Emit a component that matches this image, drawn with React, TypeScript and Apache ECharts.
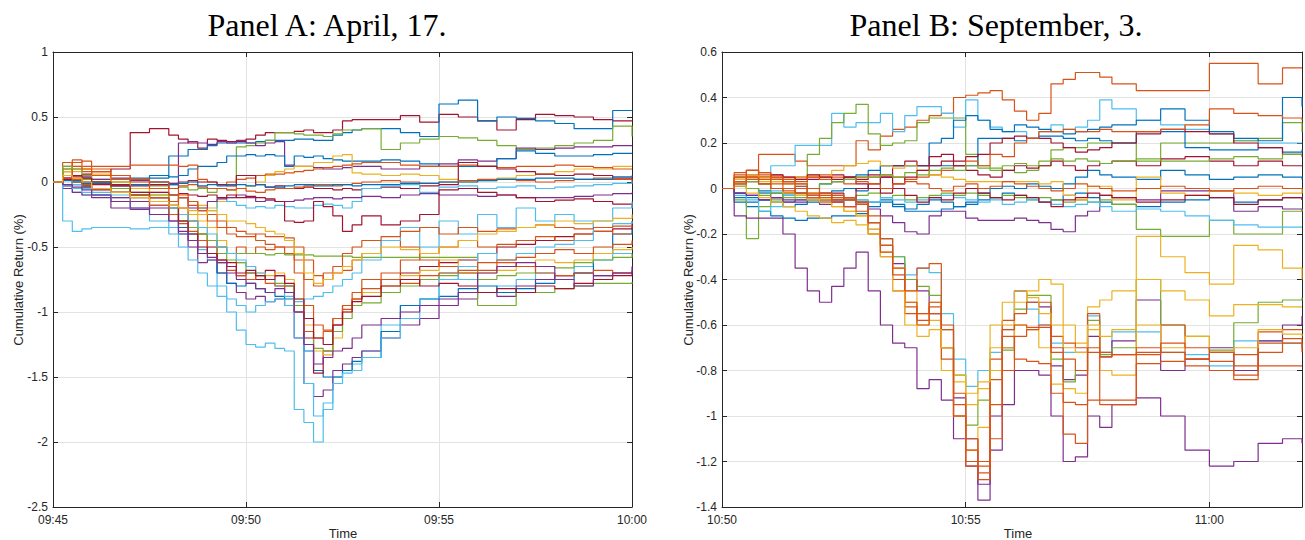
import React, { useEffect, useRef } from "react";
import * as echarts from "echarts";

// ---------- palette (MATLAB default line colours) ----------
const PALETTE: Record<string, string> = {
  blue: "#0072BD",
  orange: "#D95319",
  yellow: "#EDB120",
  purple: "#7E2F8E",
  green: "#77AC30",
  lblue: "#4DBEEE",
  dred: "#A2142F",
};

// ---------- Panel A: April 17, minutes after 09:45 ----------
const TITLE_A = "Panel A: April, 17.";
const START_A = 9 * 60 + 45;
const TIME_A = [0, 0.25, 0.5, 0.75, 1, 1.5, 2, 2.5, 3, 3.25, 3.5, 3.75, 4, 4.25, 4.5, 4.75, 5, 5.25, 5.5, 5.75, 6, 6.25, 6.5, 6.75, 7, 7.25, 7.5, 7.75, 8, 8.5, 9, 9.5, 10, 10.5, 11, 11.5, 12, 12.5, 13, 13.5, 14, 14.5, 15];
const Y_TICKS_A = { min: -2.5, max: 1, interval: 0.5 };
const X_TICKS_A = { min: 0, max: 15, interval: 5 };

const A01 = [0,0.02,0.04,0.06,0.08,0.1,0.38,0.41,0.36,0.33,0.3,0.26,0.33,0.32,0.31,0.31,0.33,0.36,0.38,0.38,0.38,0.39,0.4,0.38,0.38,0.4,0.47,0.48,0.48,0.48,0.51,0.46,0.52,0.5,0.47,0.4,0.48,0.52,0.51,0.5,0.48,0.47,0.47];
const A02 = [0,0.01,0.02,0.0,-0.01,0.0,0.02,0.03,0.2,0.2,0.25,0.25,0.28,0.3,0.3,0.3,0.3,0.31,0.32,0.32,0.32,0.33,0.33,0.32,0.32,0.36,0.38,0.4,0.41,0.41,0.38,0.35,0.6,0.63,0.47,0.5,0.49,0.47,0.45,0.41,0.41,0.55,0.55];
const A03 = [0,0.12,0.05,0.03,0.02,0.0,-0.02,-0.03,-0.05,-0.04,-0.06,-0.05,-0.08,-0.05,-0.06,0.27,0.28,0.3,0.32,0.38,0.38,0.37,0.36,0.36,0.35,0.37,0.4,0.4,0.41,0.25,0.3,0.33,0.35,0.34,0.32,0.28,0.25,0.26,0.28,0.3,0.32,0.43,0.35];
const A04 = [0,0.03,0.05,0.04,0.02,0.03,0.01,-0.02,-0.01,0.3,0.31,0.3,0.29,0.31,0.3,0.32,0.3,0.28,0.3,0.31,0.13,0.12,0.12,0.11,0.1,0.1,0.11,0.12,0.12,0.1,0.1,0.12,0.14,0.17,0.16,0.18,0.26,0.25,0.26,0.27,0.27,0.28,0.28];
const A05 = [0,0.02,0.01,-0.01,0.0,0.02,0.03,0.05,0.04,0.05,0.1,0.12,0.12,0.15,0.2,0.2,0.21,0.2,0.21,0.2,0.12,0.2,0.19,0.2,0.18,0.17,0.16,0.16,0.16,0.17,0.16,0.14,0.12,0.12,0.12,0.18,0.24,0.22,0.2,0.2,0.21,0.22,0.22];
const A06 = [0,0.05,0.08,0.1,0.06,0.0,-0.05,-0.08,-0.1,-0.12,-0.15,-0.18,-0.2,-0.15,-0.12,-0.05,-0.03,0.0,0.05,0.08,0.1,0.12,0.12,0.15,0.15,0.2,0.21,0.07,0.06,0.05,0.06,0.05,0.02,0.0,0.01,0.03,0.05,0.06,0.08,0.1,0.1,0.12,0.12];
const A07 = [0,0.08,0.15,0.16,0.12,0.12,0.13,0.13,0.13,0.12,0.13,0.02,0.0,-0.02,0.0,0.02,0.03,0.05,0.06,0.06,0.07,0.08,0.09,0.1,0.11,0.12,0.13,0.14,0.15,0.15,0.13,0.12,0.12,0.13,0.12,0.11,0.12,0.12,0.13,0.12,0.11,0.1,0.1];
const A08 = [0,-0.03,-0.05,-0.02,0.0,-0.02,-0.03,-0.02,-0.05,0.0,0.01,0.0,0.0,-0.02,-0.03,0.05,0.05,-0.02,-0.04,-0.03,-0.05,-0.05,-0.04,-0.05,-0.05,-0.06,-0.05,-0.06,-0.05,-0.04,-0.05,-0.03,-0.02,0.15,0.12,0.1,0.08,0.06,0.05,0.06,0.05,0.03,0.02];
const A09 = [0,0.1,0.17,0.12,0.1,0.05,0.02,0.0,-0.02,-0.03,-0.02,-0.04,-0.05,-0.05,-0.06,-0.05,-0.07,-0.08,-0.06,-0.05,-0.05,-0.04,-0.03,-0.02,-0.02,-0.03,-0.02,-0.01,0.0,0.01,0.0,-0.01,0.0,0.01,0.02,0.02,0.01,0.0,0.01,0.02,0.03,0.02,0.0];
const A10 = [0,0.02,0.0,-0.03,-0.05,-0.03,-0.02,0.0,-0.02,-0.01,0.0,-0.03,-0.02,-0.03,-0.02,-0.02,-0.03,-0.02,-0.04,-0.04,-0.03,-0.02,-0.02,-0.03,-0.03,-0.02,-0.02,-0.03,-0.02,-0.02,-0.01,-0.01,0.0,0.0,0.01,0.02,0.02,0.03,0.03,0.02,0.02,0.04,0.05];
const A11 = [0,-0.05,-0.08,-0.1,-0.1,-0.12,-0.1,-0.12,-0.1,-0.12,-0.15,-0.2,-0.22,-0.12,-0.15,-0.18,-0.2,-0.19,-0.2,-0.18,-0.19,-0.2,-0.2,-0.18,-0.17,-0.18,-0.2,-0.15,-0.05,-0.03,-0.02,-0.08,-0.04,-0.03,-0.05,-0.04,-0.03,-0.05,-0.04,-0.03,-0.02,-0.01,0.0];
const A12 = [0,-0.05,-0.08,-0.1,-0.12,-0.2,-0.21,-0.18,-0.15,-0.12,-0.2,-0.22,-0.15,-0.13,-0.12,-0.1,-0.12,-0.15,-0.14,-0.15,-0.15,-0.14,-0.13,-0.12,-0.12,-0.13,-0.12,-0.12,-0.11,-0.12,-0.1,-0.09,-0.1,-0.1,-0.11,-0.1,-0.12,-0.12,-0.12,-0.11,-0.1,-0.09,-0.08];
const A13 = [0,-0.02,-0.05,-0.04,-0.06,-0.08,-0.1,-0.08,-0.1,-0.09,-0.1,-0.11,-0.1,-0.12,-0.1,-0.12,-0.11,-0.12,-0.13,-0.15,-0.3,-0.31,-0.3,-0.15,-0.19,-0.26,-0.38,-0.33,-0.26,-0.33,-0.3,-0.25,-0.06,-0.05,-0.08,-0.1,-0.12,-0.15,-0.14,-0.13,-0.15,-0.17,-0.2];
const A14 = [0,-0.3,-0.38,-0.36,-0.35,-0.35,-0.36,-0.35,-0.35,-0.4,-0.45,-0.52,-0.6,-0.8,-1.0,-1.14,-1.25,-1.27,-1.24,-1.28,-1.3,-1.75,-1.85,-2.0,-1.75,-1.5,-1.45,-1.4,-1.3,-1.1,-0.95,-0.9,-0.7,-0.75,-0.85,-0.8,-0.75,-0.7,-0.72,-0.65,-0.6,-0.55,-0.55];
const A15 = [0,0.03,-0.02,-0.05,-0.1,-0.12,-0.15,-0.2,-0.3,-0.4,-0.5,-0.62,-0.6,-0.7,-0.78,-0.85,-0.9,-0.88,-0.92,-0.9,-0.95,-1.2,-1.55,-1.65,-1.6,-1.45,-1.4,-1.35,-1.3,-1.2,-1.1,-1.05,-0.95,-0.9,-0.85,-0.88,-0.8,-0.75,-0.72,-0.7,-0.72,-0.7,-0.68];
const A16 = [0,-0.02,0.0,-0.03,-0.05,-0.08,-0.1,-0.15,-0.25,-0.35,-0.4,-0.45,-0.55,-0.7,-0.78,-0.8,-0.78,-0.82,-0.85,-0.88,-0.9,-1.0,-1.3,-1.45,-1.5,-1.5,-1.45,-1.38,-1.35,-1.15,-0.95,-0.9,-0.88,-0.82,-0.8,-0.85,-0.82,-0.78,-0.75,-0.7,-0.55,-0.4,-0.35];
const A17 = [0,0.05,0.02,0.0,-0.02,-0.05,-0.1,-0.12,-0.2,-0.3,-0.35,-0.4,-0.5,-0.6,-0.65,-0.72,-0.7,-0.75,-0.68,-0.72,-0.8,-0.95,-1.2,-1.47,-1.3,-1.1,-0.95,-0.9,-0.85,-0.75,-0.7,-0.65,-0.62,-0.6,-0.55,-0.5,-0.48,-0.45,-0.42,-0.4,-0.38,-0.36,-0.3];
const A18 = [0,0.08,0.12,0.1,0.05,0.0,-0.05,-0.1,-0.15,-0.2,-0.25,-0.3,-0.35,-0.45,-0.55,-0.62,-0.65,-0.7,-0.72,-0.7,-0.75,-0.9,-1.1,-1.3,-1.33,-1.2,-1.0,-0.9,-0.85,-0.8,-0.72,-0.68,-0.6,-0.65,-0.7,-0.68,-0.65,-0.6,-0.62,-0.6,-0.55,-0.52,-0.5];
const A19 = [0,0.1,0.05,0.02,0.0,-0.05,-0.08,-0.1,-0.18,-0.25,-0.3,-0.4,-0.45,-0.55,-0.6,-0.62,-0.7,-0.72,-0.75,-0.78,-0.8,-0.95,-1.15,-1.28,-1.3,-1.15,-1.05,-0.95,-0.93,-0.85,-0.8,-0.75,-0.72,-0.7,-0.75,-0.72,-0.7,-0.65,-0.66,-0.62,-0.6,-0.58,-0.55];
const A20 = [0,0.05,0.1,0.08,0.05,0.02,0.0,-0.05,-0.1,-0.2,-0.3,-0.35,-0.45,-0.5,-0.55,-0.5,-0.55,-0.5,-0.52,-0.5,-0.55,-0.7,-0.95,-1.1,-1.14,-1.05,-0.95,-0.85,-0.75,-0.7,-0.6,-0.55,-0.5,-0.45,-0.5,-0.48,-0.45,-0.42,-0.45,-0.4,-0.38,-0.4,-0.4];
const A21 = [0,0.15,0.12,0.1,0.08,0.05,0.02,0.0,-0.05,-0.1,-0.15,-0.22,-0.3,-0.35,-0.4,-0.42,-0.42,-0.4,-0.42,-0.42,-0.43,-0.5,-0.6,-0.72,-0.75,-0.7,-0.68,-0.6,-0.55,-0.45,-0.5,-0.6,-0.65,-0.7,-0.68,-0.62,-0.65,-0.7,-0.72,-0.7,-0.68,-0.7,-0.7];
const A22 = [0,0.12,0.1,0.05,0.0,-0.05,-0.1,-0.15,-0.2,-0.3,-0.35,-0.4,-0.45,-0.5,-0.55,-0.55,-0.55,-0.55,-0.56,-0.55,-0.56,-0.56,-0.56,-0.57,-0.57,-0.57,-0.57,-0.58,-0.58,-0.58,-0.58,-0.58,-0.58,-0.58,-0.95,-0.95,-0.85,-0.85,-0.82,-0.8,-0.78,-0.78,-0.77];
const A23 = [0,-0.03,-0.05,-0.08,-0.1,-0.15,-0.2,-0.3,-0.4,-0.5,-0.6,-0.7,-0.8,-0.88,-0.9,-0.95,-1.0,-0.95,-0.92,-0.9,-0.95,-1.2,-1.55,-1.8,-1.7,-1.55,-1.47,-1.45,-1.35,-1.2,-1.05,-0.9,-0.75,-0.65,-0.55,-0.6,-0.55,-0.5,-0.48,-0.45,-0.3,-0.2,-0.15];
const A24 = [0,0.02,-0.02,-0.05,-0.08,-0.1,-0.12,-0.15,-0.2,-0.25,-0.3,-0.35,-0.4,-0.5,-0.55,-0.6,-0.65,-0.7,-0.75,-0.8,-0.88,-0.92,-0.9,-0.88,-0.85,-0.8,-0.75,-0.7,-0.6,-0.45,-0.35,-0.5,-0.3,-0.4,-0.25,-0.35,-0.2,-0.3,-0.25,-0.3,-0.35,-0.32,-0.3];
const A25 = [0,0.05,0.02,-0.02,-0.05,-0.08,-0.12,-0.18,-0.25,-0.32,-0.38,-0.45,-0.55,-0.62,-0.68,-0.72,-0.75,-0.72,-0.78,-0.8,-0.85,-1.0,-1.15,-1.2,-1.15,-1.05,-0.98,-0.9,-0.82,-0.75,-0.78,-0.72,-0.7,-0.68,-0.62,-0.6,-0.58,-0.55,-0.52,-0.55,-0.5,-0.48,-0.45];
const A26 = [0,0.02,0.05,0.03,0.0,-0.03,-0.08,-0.12,-0.18,-0.3,-0.4,-0.5,-0.55,-0.6,-0.62,-0.7,-0.68,-0.72,-0.75,-0.72,-0.78,-0.9,-1.05,-1.2,-1.25,-1.1,-1.0,-0.92,-0.88,-0.8,-0.75,-0.8,-0.78,-0.8,-0.85,-0.82,-0.85,-0.8,-0.82,-0.78,-0.75,-0.72,-0.7];
const A27 = [0,-0.02,-0.04,-0.06,-0.1,-0.15,-0.2,-0.25,-0.3,-0.38,-0.45,-0.55,-0.58,-0.62,-0.7,-0.75,-0.78,-0.82,-0.85,-0.82,-0.85,-1.0,-1.25,-1.4,-1.35,-1.3,-1.28,-1.2,-1.1,-1.05,-1.0,-0.95,-0.9,-0.85,-0.7,-0.65,-0.62,-0.65,-0.75,-0.8,-0.72,-0.7,-0.65];
const A28 = [0,0.03,0.0,-0.02,-0.05,-0.08,-0.1,-0.12,-0.15,-0.12,-0.18,-0.2,-0.25,-0.3,-0.35,-0.38,-0.4,-0.45,-0.48,-0.5,-0.5,-0.6,-0.75,-0.8,-0.7,-0.65,-0.55,-0.5,-0.45,-0.42,-0.38,-0.35,-0.4,-0.35,-0.38,-0.36,-0.35,-0.33,-0.35,-0.36,-0.35,-0.34,-0.35];
const A29 = [0,0.05,0.03,0.0,-0.05,-0.08,-0.12,-0.15,-0.18,-0.2,-0.22,-0.25,-0.22,-0.25,-0.3,-0.3,-0.32,-0.35,-0.38,-0.4,-0.45,-0.55,-0.7,-0.78,-0.75,-0.7,-0.65,-0.6,-0.55,-0.5,-0.52,-0.55,-0.5,-0.45,-0.4,-0.38,-0.35,-0.33,-0.3,-0.32,-0.3,-0.28,-0.25];

const LINES_A = [A01, A02, A03, A04, A05, A06, A07, A08, A09, A10, A11, A12, A13, A14, A15, A16, A17, A18, A19, A20, A21, A22, A23, A24, A25, A26, A27, A28, A29];
const COLORS_A = ["dred", "blue", "green", "purple", "blue", "yellow", "orange", "dred", "orange", "blue", "lblue", "purple", "dred", "lblue", "purple", "blue", "dred", "yellow", "green", "orange", "orange", "green", "lblue", "lblue", "orange", "dred", "purple", "orange", "yellow"];

// ---------- Panel B: September 3, minutes after 10:50 ----------
const TITLE_B = "Panel B: September, 3.";
const START_B = 10 * 60 + 50;
const TIME_B = [0, 0.25, 0.5, 0.75, 1, 1.25, 1.5, 1.75, 2, 2.25, 2.5, 2.75, 3, 3.25, 3.5, 3.75, 4, 4.25, 4.5, 4.75, 5, 5.25, 5.5, 5.75, 6, 6.25, 6.5, 6.75, 7, 7.25, 7.5, 7.75, 8, 8.5, 9, 9.5, 10, 10.5, 11, 11.5, 11.9];
const Y_TICKS_B = { min: -1.4, max: 0.6, interval: 0.2 };
const X_TICKS_B = { min: 0, max: 11.9, interval: 5 };

const B01 = [0,-0.12,-0.13,-0.13,-0.13,-0.2,-0.35,-0.45,-0.5,-0.43,-0.35,-0.28,-0.45,-0.6,-0.68,-0.7,-0.88,-0.84,-0.93,-1.1,-1.22,-1.3,-1.15,-0.95,-0.8,-0.8,-0.82,-1.0,-1.2,-1.18,-1.0,-1.05,-0.95,-0.92,-1.0,-1.15,-1.22,-1.2,-1.12,-1.1,-1.12];
const B02 = [0,0.02,0.0,-0.02,-0.01,-0.03,-0.02,0.0,-0.02,-0.03,-0.04,-0.05,-0.15,-0.22,-0.3,-0.38,-0.35,-0.37,-0.55,-0.75,-0.87,-0.8,-0.72,-0.62,-0.45,-0.53,-0.6,-0.68,-0.72,-0.72,-0.56,-0.72,-0.63,-0.63,-0.72,-0.73,-0.78,-0.67,-0.67,-0.68,-0.68];
const B03 = [0,-0.02,-0.03,-0.05,-0.04,-0.06,-0.05,-0.04,-0.06,-0.05,-0.04,-0.06,-0.18,-0.25,-0.33,-0.4,-0.45,-0.55,-0.7,-0.92,-1.1,-1.37,-1.0,-0.7,-0.45,-0.5,-0.52,-0.78,-0.84,-0.82,-0.65,-0.74,-0.67,-0.49,-0.8,-0.75,-0.7,-0.8,-0.67,-0.6,-0.56];
const B04 = [0,0.03,0.0,-0.03,-0.02,-0.04,-0.03,-0.05,-0.04,-0.03,-0.05,-0.06,-0.15,-0.22,-0.3,-0.4,-0.43,-0.47,-0.62,-0.82,-1.04,-0.93,-0.8,-0.71,-0.53,-0.47,-0.47,-0.75,-0.85,-0.8,-0.58,-0.73,-0.7,-0.4,-0.6,-0.65,-0.71,-0.59,-0.5,-0.49,-0.48];
const B05 = [0,0.04,0.06,0.05,0.03,0.02,0.0,-0.02,-0.05,-0.08,-0.1,-0.12,-0.18,-0.25,-0.35,-0.45,-0.55,-0.5,-0.7,-0.85,-0.95,-0.88,-0.7,-0.6,-0.5,-0.45,-0.4,-0.42,-0.6,-0.68,-0.52,-0.49,-0.45,-0.21,-0.3,-0.37,-0.42,-0.25,-0.27,-0.35,-0.4];
const B06 = [0,0.02,0.05,0.03,0.0,-0.02,-0.03,-0.05,-0.06,-0.08,-0.1,-0.12,-0.2,-0.28,-0.4,-0.5,-0.6,-0.58,-0.8,-1.0,-1.15,-1.05,-0.8,-0.7,-0.6,-0.62,-0.7,-0.86,-0.88,-0.9,-0.62,-0.8,-0.82,-0.4,-0.45,-0.49,-0.56,-0.51,-0.51,-0.52,-0.52];
const B07 = [0,0.05,0.08,0.06,0.04,0.02,0.0,-0.02,-0.04,-0.06,-0.08,-0.1,-0.2,-0.3,-0.45,-0.55,-0.6,-0.55,-0.75,-1.0,-1.2,-1.25,-0.95,-0.62,-0.6,-0.61,-0.61,-0.72,-1.08,-1.12,-0.55,-0.93,-0.93,-0.73,-0.6,-0.75,-0.76,-0.82,-0.68,-0.66,-0.7];
const B08 = [0,0.03,0.05,0.04,0.02,0.0,-0.02,-0.03,-0.02,-0.04,-0.05,-0.07,-0.15,-0.22,-0.35,-0.5,-0.58,-0.52,-0.7,-1.0,-1.22,-1.28,-0.84,-0.65,-0.75,-0.76,-0.77,-0.9,-0.94,-0.95,-0.93,-0.95,-0.95,-0.77,-0.76,-0.78,-0.8,-0.84,-0.78,-0.78,-0.78];
const B09 = [0,0.02,0.04,0.02,0.0,-0.01,-0.02,-0.04,-0.03,-0.05,-0.04,-0.06,-0.12,-0.25,-0.4,-0.52,-0.55,-0.5,-0.62,-0.9,-1.15,-1.2,-0.75,-0.58,-0.55,-0.5,-0.5,-0.65,-0.68,-0.7,-0.72,-0.74,-0.73,-0.7,-0.72,-0.75,-0.72,-0.73,-0.63,-0.62,-0.62];
const B10 = [0,0.01,-0.02,-0.04,-0.06,-0.08,-0.1,-0.12,-0.13,-0.15,-0.14,-0.16,-0.2,-0.3,-0.45,-0.6,-0.65,-0.62,-0.7,-0.82,-0.9,-0.85,-0.6,-0.5,-0.45,-0.48,-0.55,-0.6,-0.7,-0.72,-0.6,-0.65,-0.62,-0.6,-0.7,-0.65,-0.72,-0.7,-0.62,-0.64,-0.65];
const B11 = [0,0.06,0.08,0.07,0.05,0.03,0.02,0.0,-0.02,-0.03,-0.05,-0.06,-0.15,-0.28,-0.38,-0.45,-0.35,-0.33,-0.6,-0.95,-1.1,-1.22,-1.1,-0.8,-0.65,-0.62,-0.6,-0.7,-0.75,-0.8,-0.7,-0.72,-0.73,-0.72,-0.68,-0.7,-0.72,-0.78,-0.72,-0.68,-0.72];
const B12 = [0,0.05,0.05,0.15,0.15,0.15,0.12,0.1,0.1,0.1,0.1,0.21,0.17,0.23,0.26,0.27,0.3,0.32,0.33,0.4,0.41,0.42,0.43,0.39,0.34,0.3,0.33,0.46,0.48,0.51,0.51,0.49,0.46,0.43,0.43,0.43,0.55,0.55,0.46,0.53,0.53];
const B13 = [0,0.02,0.04,0.05,0.1,0.1,0.19,0.19,0.19,0.33,0.27,0.29,0.29,0.33,0.25,0.32,0.36,0.36,0.33,0.27,0.39,0.3,0.27,0.25,0.25,0.22,0.25,0.28,0.26,0.27,0.3,0.39,0.35,0.3,0.28,0.26,0.24,0.21,0.2,0.2,0.2];
const B14 = [0,0.02,0.0,-0.02,0.0,-0.02,-0.03,0.15,0.22,0.29,0.33,0.37,0.24,0.19,0.2,0.21,0.29,0.31,0.31,0.31,0.15,0.1,0.09,0.08,0.07,0.08,0.1,0.17,0.18,0.18,0.2,0.2,0.2,0.12,0.2,0.2,0.2,0.21,0.22,0.29,0.25];
const B15 = [0,-0.02,-0.04,-0.05,-0.04,-0.03,-0.02,0.0,0.02,0.03,0.05,0.06,0.08,0.1,0.1,0.1,0.1,0.2,0.22,0.3,0.32,0.3,0.26,0.25,0.28,0.27,0.26,0.25,0.24,0.25,0.26,0.27,0.28,0.3,0.35,0.3,0.25,0.22,0.21,0.4,0.36];
const B16 = [0,0.01,0.0,-0.01,-0.02,-0.03,-0.02,-0.03,-0.02,-0.01,0.0,-0.01,0.0,0.1,0.1,0.1,0.1,0.1,0.1,0.1,0.1,0.22,0.22,0.22,0.21,0.22,0.23,0.23,0.22,0.21,0.22,0.21,0.2,0.25,0.25,0.18,0.17,0.17,0.18,0.16,0.17];
const B17 = [0,0.02,0.03,0.05,0.04,0.03,0.05,0.04,0.05,0.06,0.05,0.04,0.06,0.05,0.1,0.12,0.1,0.14,0.15,0.12,0.14,0.15,0.2,0.22,0.23,0.22,0.22,0.2,0.18,0.16,0.17,0.18,0.2,0.24,0.26,0.25,0.24,0.2,0.18,0.15,0.14];
const B18 = [0,0.03,0.05,0.04,0.06,0.05,0.04,0.05,0.06,0.05,0.04,0.05,0.05,0.06,0.05,0.04,0.05,0.06,0.08,0.1,0.12,0.1,0.15,0.14,0.2,0.22,0.25,0.25,0.26,0.25,0.25,0.26,0.25,0.25,0.26,0.28,0.35,0.33,0.32,0.31,0.3];
const B19 = [0,-0.04,-0.06,-0.05,-0.06,-0.08,-0.07,-0.06,-0.05,-0.06,-0.05,-0.07,-0.06,-0.05,-0.07,-0.1,-0.1,-0.1,-0.09,-0.08,-0.06,-0.02,0.0,0.01,0.0,0.02,0.01,0.0,0.02,0.05,0.08,0.06,0.05,0.04,0.08,0.06,0.04,0.05,0.06,0.05,0.04];
const B20 = [0,-0.06,-0.08,-0.1,-0.12,-0.13,-0.14,-0.13,-0.13,-0.12,-0.12,-0.11,-0.08,-0.06,-0.08,-0.09,-0.07,-0.05,-0.06,-0.08,-0.07,-0.05,-0.04,-0.02,-0.03,-0.04,-0.06,-0.05,-0.03,-0.02,-0.04,-0.06,-0.07,-0.08,-0.06,-0.05,-0.04,-0.06,-0.05,-0.04,-0.05];
const B21 = [0,-0.02,-0.03,-0.02,-0.04,-0.05,-0.06,-0.05,-0.07,-0.06,-0.08,-0.07,-0.09,-0.12,-0.15,-0.19,-0.2,-0.12,-0.1,-0.1,-0.13,-0.14,-0.14,-0.14,-0.13,-0.14,-0.15,-0.18,-0.19,-0.12,-0.1,-0.03,-0.04,-0.05,-0.01,-0.01,-0.01,-0.1,-0.08,-0.09,-0.1];
const B22 = [0,-0.05,-0.22,-0.08,-0.05,-0.06,-0.04,-0.05,-0.03,-0.04,-0.05,-0.03,-0.02,-0.04,-0.03,-0.05,-0.04,-0.03,-0.02,-0.03,-0.02,-0.03,-0.04,-0.03,-0.04,-0.05,-0.04,-0.05,-0.06,-0.05,-0.06,-0.05,-0.07,-0.18,-0.21,-0.21,-0.14,-0.2,-0.2,-0.1,-0.09];
const B23 = [0,-0.03,-0.05,-0.1,-0.08,-0.06,-0.05,-0.04,-0.06,-0.05,-0.04,-0.05,-0.06,-0.04,-0.05,-0.06,-0.05,-0.04,-0.03,-0.04,-0.05,-0.06,-0.05,-0.07,-0.06,-0.05,-0.06,-0.07,-0.08,-0.07,-0.06,-0.08,-0.1,-0.09,-0.1,-0.12,-0.14,-0.16,-0.17,-0.17,-0.17];
const B24 = [0,0.02,0.04,0.05,0.03,0.04,0.05,0.06,0.05,0.08,0.1,0.11,0.12,0.1,0.09,0.1,0.08,0.06,0.05,0.04,0.03,0.03,0.03,0.03,0.03,0.03,0.02,0.03,-0.03,-0.05,0.01,0.01,-0.05,0.05,-0.02,-0.03,-0.01,-0.02,-0.03,-0.02,0.0];
const B25 = [0,0.03,0.05,0.02,0.0,-0.02,0.01,-0.03,-0.05,-0.02,-0.04,0.0,0.02,0.05,0.0,-0.03,-0.06,-0.04,-0.05,-0.02,0.0,-0.02,-0.04,-0.05,-0.03,-0.04,-0.06,-0.08,-0.05,-0.04,-0.02,-0.03,-0.04,-0.06,-0.05,-0.03,-0.04,-0.07,-0.05,-0.04,-0.05];
const B26 = [0,0.04,0.06,0.05,0.06,0.05,0.04,0.06,0.05,0.04,0.05,0.02,0.0,-0.02,0.02,0.05,0.08,0.1,0.12,0.1,0.08,0.06,0.05,0.08,0.1,0.09,0.1,0.12,0.1,0.08,0.1,0.11,0.12,0.1,0.13,0.14,0.12,0.1,0.12,0.1,0.1];
const B27 = [0,0.07,0.08,0.07,0.05,0.04,0.03,0.05,0.04,0.03,0.02,0.03,0.02,0.0,0.02,0.03,0.02,0.0,-0.01,0.01,0.02,0.0,0.01,0.03,0.02,0.01,0.0,-0.01,0.0,0.02,0.01,0.0,-0.01,0.0,0.01,0.0,-0.01,0.0,0.01,0.0,0.0];
const B28 = [0,0.05,0.03,0.02,0.04,0.03,0.02,0.0,0.02,0.03,0.04,0.05,0.05,0.06,0.05,0.07,0.06,0.08,0.09,0.08,0.1,0.09,0.08,0.1,0.11,0.1,0.12,0.13,0.12,0.13,0.12,0.11,0.12,0.13,0.12,0.12,0.13,0.14,0.13,0.15,0.15];

const LINES_B = [B12, B13, B14, B15, B16, B17, B18, B19, B20, B21, B22, B23, B24, B25, B26, B27, B28, B01, B02, B03, B04, B05, B06, B07, B08, B09, B10, B11];
const COLORS_B = ["orange", "lblue", "green", "blue", "blue", "dred", "orange", "blue", "blue", "purple", "green", "lblue", "yellow", "dred", "dred", "orange", "green", "purple", "lblue", "purple", "green", "yellow", "yellow", "orange", "orange", "orange", "yellow", "orange"];

// ---------- helpers ----------
const INK = "#262626";
const GRID_LINE = "#e3e3e3";
const SANS = "'Liberation Sans', Arial, Helvetica, sans-serif";
const SERIF = "'Liberation Serif', 'Times New Roman', serif";

function timeFormatter(start: number) {
  return (v: number) => {
    const m = Math.round(v);
    if (Math.abs(v - m) > 1e-6 || m % 5 !== 0) return "";
    const t = start + m;
    const hh = String(Math.floor(t / 60)).padStart(2, "0");
    const mm = String(t % 60).padStart(2, "0");
    return `${hh}:${mm}`;
  };
}

function numFormatter(v: number) {
  const r = Math.round(v * 10) / 10;
  return String(r === 0 ? 0 : r);
}

function buildSeries(times: number[], lines: number[][], colors: string[], axisIndex: number) {
  return lines.map((vals, k) => ({
    type: "line",
    xAxisIndex: axisIndex,
    yAxisIndex: axisIndex,
    step: "end",
    showSymbol: false,
    symbol: "none",
    silent: true,
    clip: true,
    lineStyle: { width: 1.2, color: PALETTE[colors[k]] },
    data: times
      .map((t, i) => [t, vals[i]])
      .filter((p) => typeof p[1] === "number"),
  }));
}

type Ticks = { min: number; max: number; interval: number };

function axisBase(gridIndex: number, ticks: Ticks, position: string) {
  return {
    type: "value",
    gridIndex,
    position,
    min: ticks.min,
    max: ticks.max,
    interval: ticks.interval,
    axisLine: { show: true, onZero: false, lineStyle: { color: INK, width: 1 } },
    axisTick: { show: true, inside: true, length: 5, lineStyle: { color: INK } },
  };
}
function mainX(gridIndex: number, ticks: Ticks, start: number) {
  return {
    ...axisBase(gridIndex, ticks, "bottom"),
    axisLabel: { color: INK, fontSize: 12, fontFamily: SANS, margin: 7, formatter: timeFormatter(start) },
    splitLine: { show: true, lineStyle: { color: GRID_LINE, width: 1 } },
  };
}
function topX(gridIndex: number, ticks: Ticks) {
  return { ...axisBase(gridIndex, ticks, "top"), axisLabel: { show: false }, splitLine: { show: false } };
}
function mainY(gridIndex: number, ticks: Ticks) {
  return {
    ...axisBase(gridIndex, ticks, "left"),
    axisLabel: { color: INK, fontSize: 12, fontFamily: SANS, margin: 5, formatter: numFormatter },
    splitLine: { show: true, lineStyle: { color: GRID_LINE, width: 1 } },
  };
}
function rightY(gridIndex: number, ticks: Ticks) {
  return { ...axisBase(gridIndex, ticks, "right"), axisLabel: { show: false }, splitLine: { show: false } };
}

export default function App() {
  const ref = useRef<HTMLDivElement>(null);

  useEffect(() => {
    if (!ref.current) return;
    const chart = echarts.init(ref.current, null, { renderer: "svg" });

    const text = (x: number, y: number, t: string, font: string, size: number, fill: string, rot = 0) => ({
      type: "text",
      x,
      y,
      rotation: rot,
      silent: true,
      style: { text: t, fill, font: `${size}px ${font}`, textAlign: "center", textVerticalAlign: "middle" },
    });

    const option: any = {
      animation: false,
      backgroundColor: "#ffffff",
      grid: [
        { left: 53, top: 52, width: 579, height: 455, containLabel: false },
        { left: 722, top: 52, width: 588, height: 455, containLabel: false },
      ],
      xAxis: [mainX(0, X_TICKS_A, START_A), topX(0, X_TICKS_A), mainX(1, X_TICKS_B, START_B), topX(1, X_TICKS_B)],
      yAxis: [mainY(0, Y_TICKS_A), rightY(0, Y_TICKS_A), mainY(1, Y_TICKS_B), rightY(1, Y_TICKS_B)],
      series: [
        ...buildSeries(TIME_A, LINES_A, COLORS_A, 0),
        ...buildSeries(TIME_B, LINES_B, COLORS_B, 2),
      ],
      graphic: [
        text(327, 25, TITLE_A, SERIF, 32, "#000"),
        text(996, 25, TITLE_B, SERIF, 32, "#000"),
        text(343, 533, "Time", SANS, 13, INK),
        text(1018, 533, "Time", SANS, 13, INK),
        text(18, 280, "Cumulative Return (%)", SANS, 13, INK, Math.PI / 2),
        text(688, 280, "Cumulative Return (%)", SANS, 13, INK, Math.PI / 2),
      ],
    };

    chart.setOption(option);
    return () => chart.dispose();
  }, []);

  return (
    <div
      ref={ref}
      style={{ position: "absolute", left: 0, top: 0, width: 1305, height: 540, background: "#fff", overflow: "hidden" }}
    />
  );
}
